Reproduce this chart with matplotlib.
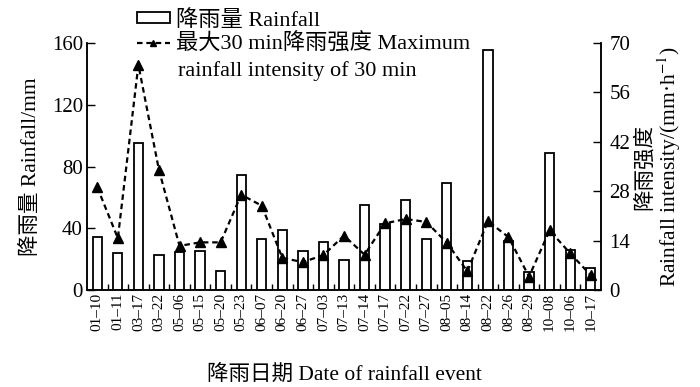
import numpy as np
import matplotlib
matplotlib.use('Agg')
import matplotlib.pyplot as plt
from matplotlib.lines import Line2D
from matplotlib.patches import Patch

plt.rcParams['font.family'] = ['Liberation Serif', 'Noto Sans CJK SC']
plt.rcParams['mathtext.fontset'] = 'stix'

# 降雨日期
dates = ['01-10', '01-11', '03-17', '03-22', '05-06', '05-15', '05-20', '05-23',
         '06-07', '06-20', '06-27', '07-03', '07-13', '07-14', '07-17', '07-22',
         '07-27', '08-05', '08-14', '08-22', '08-26', '08-29', '10-08', '10-06',
         '10-17']
# 降雨量 (mm)
rainfall = [34.5, 24, 95, 22.4, 24.5, 25.5, 12.5, 74.3, 33, 39, 25, 31, 19.5,
            54.8, 43, 58.3, 33, 69, 19, 155.4, 32, 11.5, 88.8, 26.2, 14]
# 最大30 min降雨强度 (mm/h)
intensity = [29.1, 14.7, 63.8, 34, 12.5, 13.5, 13.5, 27, 23.9, 9.1, 7.9, 9.9,
             15.4, 10, 18.9, 20.1, 19.3, 13.4, 5.3, 19.5, 15, 3.8, 16.9, 10.4,
             4.2]

x = np.arange(len(dates))
tick_labels = [d.replace('-', '\u2013') for d in dates]

fig = plt.figure(figsize=(7, 3.87), dpi=100)
ax = fig.add_axes([87/700, 1-290/387, 514/700, 247/387])
ax2 = ax.twinx()

ax.bar(x, rainfall, width=0.45, facecolor='white', edgecolor='black', linewidth=1.3)
ax2.plot(x, intensity, color='black', linestyle=(0, (2.5, 1.7)), linewidth=1.6,
         marker='^', markersize=7.5)

ax.set_xlim(-0.5, len(dates) - 0.5)
ax.set_ylim(0, 160)
ax2.set_ylim(0, 70)
ax.set_yticks(np.arange(0, 161, 40))
ax2.set_yticks(np.arange(0, 71, 14))
ax.set_xticks(x)
ax.set_xticklabels(tick_labels, rotation=90, fontsize=11)
ax.set_xticks(np.arange(0.5, len(dates) - 1, 1), minor=True)
ax.tick_params(axis='x', which='major', length=0, pad=2)
ax.tick_params(axis='x', which='minor', direction='in', length=4, width=1)
ax.tick_params(axis='y', direction='in', length=6, width=1, labelsize=15, pad=3)
ax2.tick_params(axis='y', direction='in', length=6, width=1, labelsize=15, pad=6)

for a in (ax, ax2):
    a.spines['top'].set_visible(False)
    for s in ('left', 'right', 'bottom'):
        a.spines[s].set_linewidth(1.1)

ax.set_ylabel('降雨量 Rainfall/mm', fontsize=15.5, labelpad=8)
ax2.set_ylabel('降雨强度\nRainfall intensity/(mm·h$^{-1}$)', fontsize=15.5,
               multialignment='center', linespacing=1.05, labelpad=3)
ax.set_xlabel('降雨日期 Date of rainfall event', fontsize=15.5, labelpad=24)

handles = [Patch(facecolor='white', edgecolor='black', linewidth=1.3),
           Line2D([], [], color='black', linestyle=(0, (2.5, 1.7)), linewidth=1.6,
                  marker='^', markersize=5)]
labels = ['降雨量 Rainfall', '最大30 min降雨强度 Maximum']
fig.legend(handles, labels, loc='upper left', bbox_to_anchor=(137/700, 1-10/387),
           frameon=False, fontsize=16, borderpad=0, borderaxespad=0,
           handlelength=1.48, handleheight=0.38, handletextpad=0.28,
           labelspacing=0.12)
fig.text(178/700, 1-71/387, 'rainfall intensity of 30 min', fontsize=16,
         va='center', ha='left')

fig.savefig('out.png', dpi=100)
